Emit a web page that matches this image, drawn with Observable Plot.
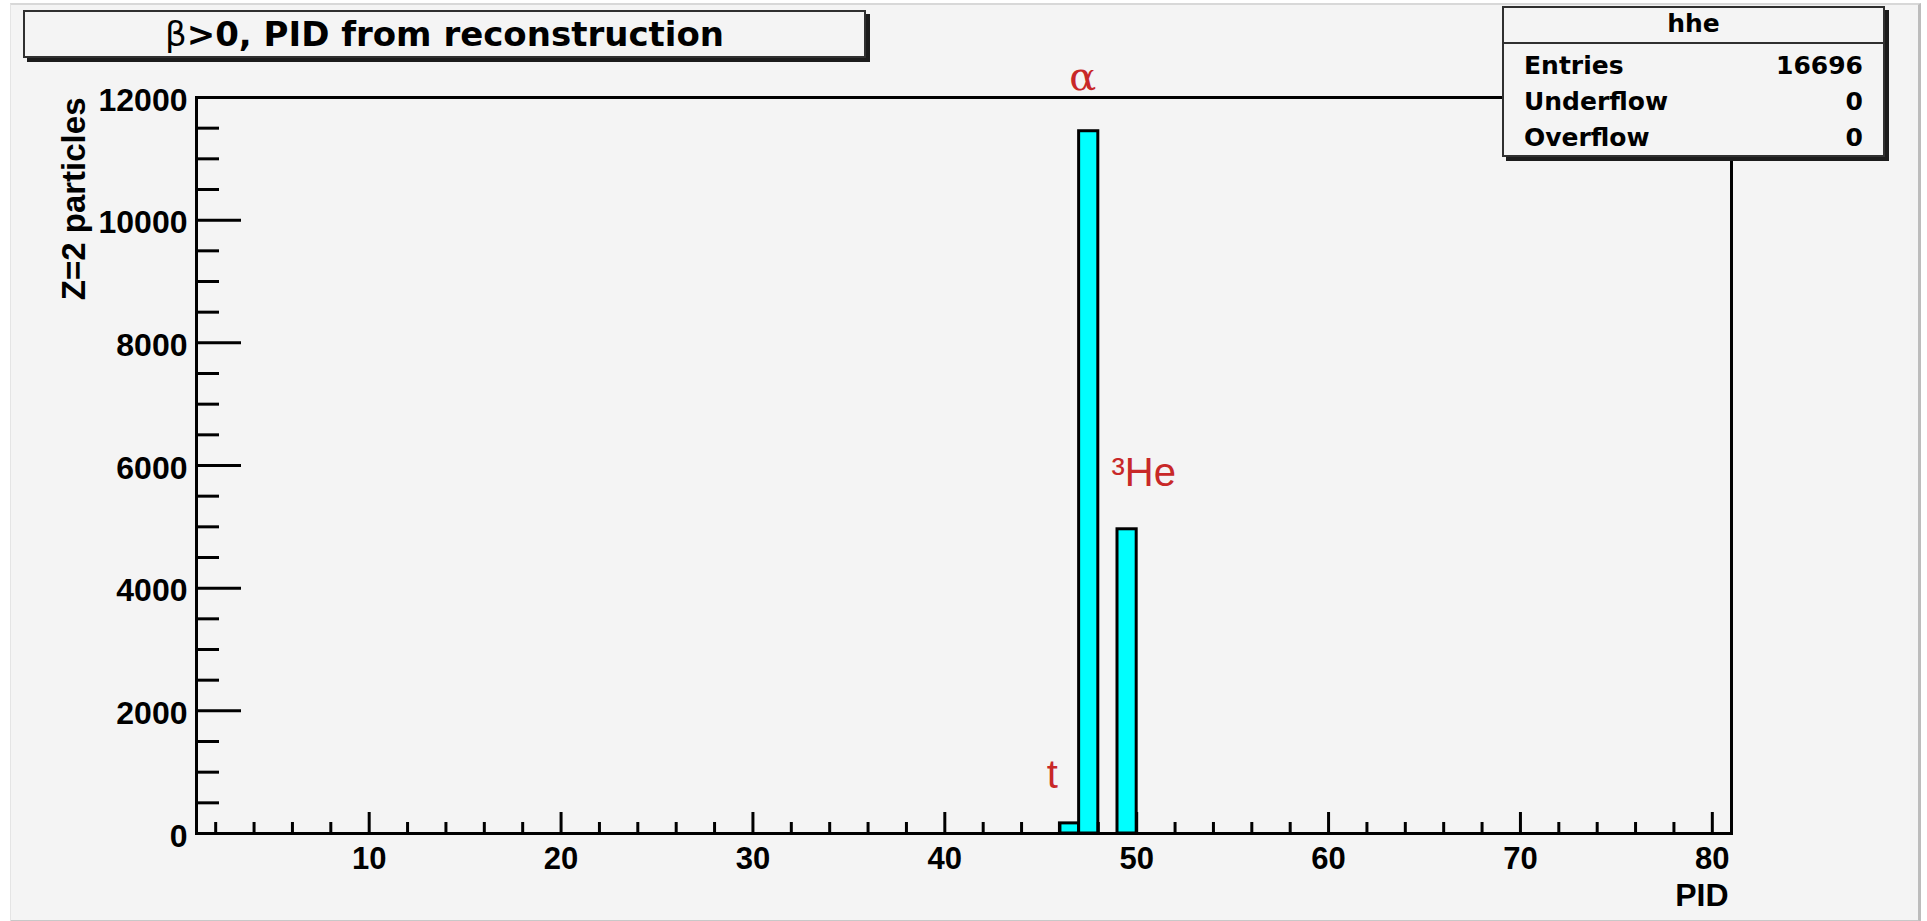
<!DOCTYPE html>
<html>
<head>
<meta charset="utf-8">
<script src="https://cdn.jsdelivr.net/npm/d3@7"></script>
<script src="https://cdn.jsdelivr.net/npm/@observablehq/plot@0.6"></script>
<style>
  html, body { margin: 0; padding: 0; background: #ffffff; width: 1927px; height: 921px; overflow: hidden; }
  #canvas { position: absolute; left: 10px; top: 3px; width: 1907px; height: 915px; background: #f4f4f4;
            border-top: 2px solid #d8d8d8; border-left: 1px solid #e4e4e4; border-right: 3px solid #bcbcbc; border-bottom: 3px solid #c8c8c8; }
  #chart { position: absolute; left: 0; top: 0; }
  .pave { position: absolute; background: #f4f4f4; border: 2px solid #303030; box-shadow: 4px 4px 0 #1c1c1c; box-sizing: border-box; }
  #title { left: 23px; top: 10px; width: 843px; height: 48px; font-family: "DejaVu Sans", sans-serif; font-weight: bold;
           font-size: 34px; line-height: 44px; text-align: center; color: #000; }
  #title .beta { font-weight: normal; font-family: "DejaVu Sans", sans-serif; }
  #stats { left: 1502px; top: 6px; width: 383px; height: 151px; font-family: "DejaVu Sans", sans-serif; font-weight: bold; font-size: 25px; color: #000; }
  #stats .head { height: 34px; line-height: 32px; text-align: center; border-bottom: 2px solid #303030; }
  #stats .row { position: relative; height: 36px; line-height: 36px; padding: 0 20px; }
  #stats .row span.v { position: absolute; right: 20px; }
  #stats .rows { padding-top: 4px; }
</style>
</head>
<body>
<div id="canvas"></div>
<div id="chart"></div>
<div class="pave" id="title"><span class="beta">β</span>&gt;0, PID from reconstruction</div>
<div class="pave" id="stats">
  <div class="head">hhe</div>
  <div class="rows">
    <div class="row"><span>Entries</span><span class="v">16696</span></div>
    <div class="row"><span>Underflow</span><span class="v">0</span></div>
    <div class="row"><span>Overflow</span><span class="v">0</span></div>
  </div>
</div>
<script>
// ---- data ----
const binLow   = [46, 47, 49];          // lower edge of each non-empty PID bin
const binCount = [165, 11450, 4960];    // Z=2 particles per bin
const binWidth = 1;

const xDomain = [1, 81];
const yDomain = [0, 12000];
const xMajor = [10, 20, 30, 40, 50, 60, 70, 80];
const xMinor = [2, 4, 6, 8, 12, 14, 16, 18, 22, 24, 26, 28, 32, 34, 36, 38, 42, 44, 46, 48,
                52, 54, 56, 58, 62, 64, 66, 68, 72, 74, 76, 78];
const yMajor = [0, 2000, 4000, 6000, 8000, 10000, 12000];
const yMinor = [500, 1000, 1500, 2500, 3000, 3500, 4500, 5000, 5500, 6500, 7000, 7500,
                8500, 9000, 9500, 10500, 11000, 11500];

const annLabel = ["α", "³He", "t"];
const annBin   = [1, 2, 0];             // which bin each label marks

// ---- build ----
const bins = binLow.map((lo, i) => ({lo, hi: lo + binWidth, count: binCount[i]}));
const W = 1927, H = 921;
const mL = 196, mR = 196, mT = 97, mB = 88;
const innerW = W - mL - mR, innerH = H - mT - mB;
const red = "#c82828";

const ann = annLabel.map((label, i) => ({label, bin: bins[annBin[i]]}));

const chart = Plot.plot({
  width: W, height: H,
  marginLeft: mL, marginRight: mR, marginTop: mT, marginBottom: mB,
  style: {background: "transparent", overflow: "visible"},
  x: {domain: xDomain},
  y: {domain: yDomain},
  marks: [
    Plot.rectY(bins, {x1: "lo", x2: "hi", y: "count", fill: "#00ffff", stroke: "#000", strokeWidth: 3}),
    Plot.ruleY(yMajor, {stroke: "#000", strokeWidth: 3, insetRight: innerW - 45}),
    Plot.ruleY(yMinor, {stroke: "#000", strokeWidth: 3, insetRight: innerW - 23}),
    Plot.ruleX(xMajor, {stroke: "#000", strokeWidth: 3, insetTop: innerH - 21}),
    Plot.ruleX(xMinor, {stroke: "#000", strokeWidth: 3, insetTop: innerH - 11}),
    Plot.frame({stroke: "#000", strokeWidth: 3}),
    Plot.axisY({ticks: yMajor, tickSize: 0, tickPadding: 9, tickFormat: d => String(d), label: null, dy: 3,
                fontSize: 32, fontWeight: "bold", fontFamily: "Liberation Sans", fill: "#000"}),
    Plot.axisX({ticks: xMajor, tickSize: 0, tickPadding: 13, tickFormat: d => String(d), label: null,
                fontSize: 31, fontWeight: "bold", fontFamily: "Liberation Sans", fill: "#000"}),
    Plot.text(["Z=2 particles"], {frameAnchor: "top-left", rotate: -90, textAnchor: "end", dx: -135, dy: 0,
                fontSize: 33, fontWeight: "bold", fontFamily: "Liberation Sans", fill: "#000"}),
    Plot.text(["PID"], {frameAnchor: "bottom-right", textAnchor: "end", dx: -3, dy: 72,
                fontSize: 32, fontWeight: "bold", fontFamily: "Liberation Sans", fill: "#000"}),
    // α above the frame over the alpha bin
    Plot.text([ann[0]], {x: d => (d.bin.lo + d.bin.hi) / 2, frameAnchor: "top", dx: -6, dy: -36, text: "label",
                fontSize: 40, fontFamily: "DejaVu Serif", fill: red}),
    // ³He beside the 3He bin
    Plot.text([ann[1]], {x: d => d.bin.lo, y: d => d.bin.count, dx: -6, dy: -56, text: "label", textAnchor: "start",
                fontSize: 40, fontFamily: "Liberation Sans", fill: red}),
    // t left of the triton bin
    Plot.text([ann[2]], {x: d => d.bin.lo, y: d => d.bin.count, dx: -2, dy: -48, text: "label", textAnchor: "end",
                fontSize: 40, fontFamily: "Liberation Sans", fill: red})
  ]
});
document.getElementById("chart").appendChild(chart);
</script>
</body>
</html>
